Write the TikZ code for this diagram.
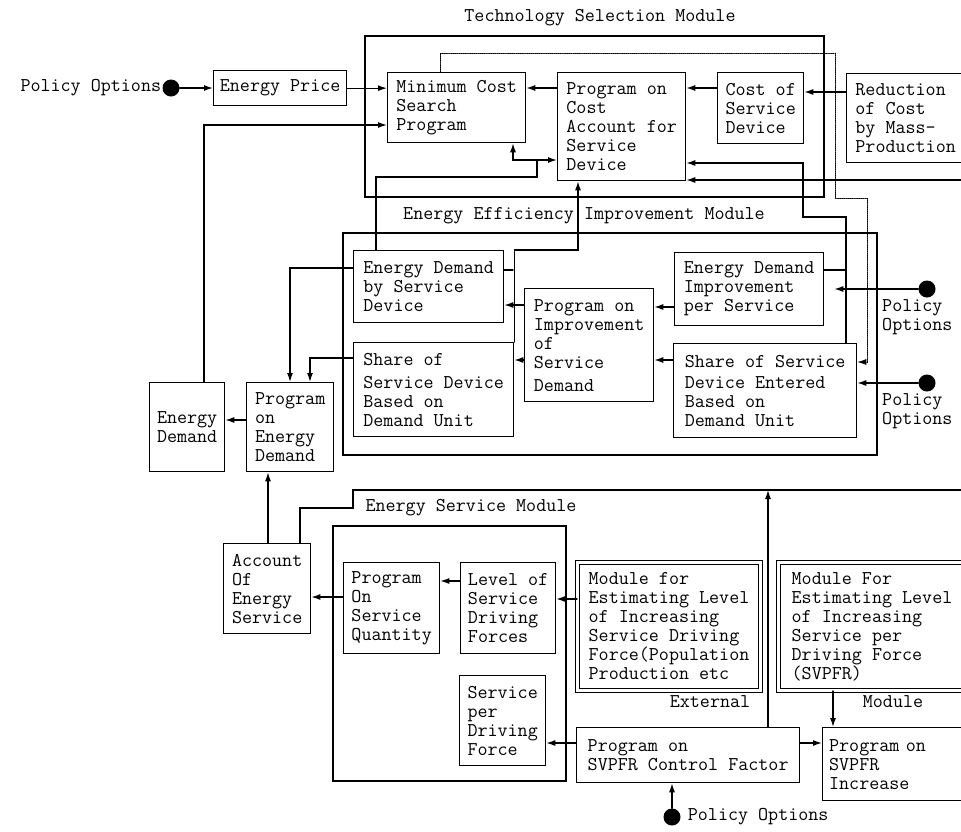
\documentclass[tikz,border=0pt]{standalone}
\usetikzlibrary{arrows.meta}
\begin{document}
\begin{tikzpicture}[x=1pt,y=-1pt,line cap=round,
  every node/.style={font=\fontsize{19.5pt}{19pt}\selectfont\ttfamily,inner sep=1pt},
  box/.style n args={2}{draw,line width=1.3pt,anchor=north west,align=left,inner sep=2pt,minimum width=#1,minimum height=#2},
  modbox/.style n args={2}{box={#1}{#2},double,double distance=2.4pt,line width=1pt},
  wire/.style={line width=1.3pt},
  link/.style={wire,-{Latex[length=9pt,width=6pt]}},
  pdot/.style={circle,fill,inner sep=0pt,minimum size=17pt}]
\useasboundingbox (0,0) rectangle (961,831);
\clip (0,0) rectangle (961,831);

% module frames
\draw[wire] (365,36) rectangle (824,197);
\draw[wire] (343,233) rectangle (877,455);
\draw[wire] (333,526) rectangle (566,781);
\node (tsm) at (600,18) {Technology Selection Module};
\node (eeim) at (584,216) {Energy Efficiency Improvement Module};
\node (esm) at (471,508) {Energy Service Module};

% technology selection
\node[box={133pt}{35pt}] (price) at (213,70) {Energy Price};
\node[box={138pt}{70pt}] (mincost) at (387,72) {Minimum Cost\\Search\\Program};
\node[box={128pt}{108pt}] (costacc) at (557,72) {Program on\\Cost\\Account for\\Service\\Device};
\node[box={86pt}{71pt}] (costdev) at (717,72) {Cost of\\Service\\Device};
\node[box={118pt}{89pt}] (reduct) at (846,73) {Reduction\\of Cost\\by Mass-\\Production};

% energy efficiency improvement
\node[box={150pt}{72pt}] (edsd) at (353,250) {Energy Demand\\by Service\\Device};
\node[box={160pt}{94pt}] (share1) at (353,342) {Share of\\[4pt]Service Device\\Based on\\Demand Unit};
\node[box={129pt}{113pt}] (improve) at (524,288) {Program on\\Improvement\\of\\Service\\[4pt]Demand};
\node[box={149pt}{73pt}] (edips) at (674,252) {Energy Demand\\Improvement\\per Service};
\node[box={183pt}{94pt}] (share2) at (673,343) {Share of Service\\[2pt]Device Entered\\Based on\\Demand Unit};

% energy demand
\node[box={75pt}{89pt}] (edem) at (149,382) {Energy\\Demand};
\node[box={87pt}{89pt}] (proged) at (246,382) {Program\\on\\Energy\\Demand};
\node[box={87pt}{90pt}] (acc) at (223,543) {Account\\Of\\Energy\\Service};

% energy service
\node[box={96pt}{91pt}] (pquant) at (343,562) {Program\\On\\Service\\Quantity};
\node[box={95pt}{91pt}] (level) at (460,562) {Level of\\Service\\Driving\\Forces};
\node[modbox={183pt}{128pt}] (modA) at (577,562) {Module for\\Estimating Level\\of Increasing\\Service Driving\\Force(Population\\Production etc};
\node[modbox={187pt}{128pt}] (modB) at (778,562) {Module For\\Estimating Level\\of Increasing\\Service per\\Driving Force\\(SVPFR)};
\node (ext) at (710,702) {External};
\node (modl) at (893,702) {Module};
\node[box={86pt}{90pt}] (spdf) at (459,675) {Service\\per\\Driving\\Force};
\node[box={223pt}{55pt}] (cf) at (576,727) {Program on\\SVPFR Control Factor};
\node[box={143pt}{73pt},text width=130pt] (pinc) at (822,727) {Program on\\SVPFR\\Increase};

% policy options
\node[pdot] (dotA) at (171,88) {};
\node[pdot] (dotB) at (927,289) {};
\node[pdot] (dotC) at (927,383) {};
\node[pdot] (dotD) at (672,817) {};
\node[anchor=east] (polA) at (dotA.west) {Policy Options};
\node[anchor=north west,align=left] (polB) at (881,298) {Policy\\Options};
\node[anchor=north west,align=left] (polC) at (881,392) {Policy\\Options};
\node[anchor=west,xshift=6pt] (polD) at (dotD.east) {Policy Options};

\coordinate (r1) at (965,180);
\coordinate (r2) at (965,490);
\coordinate (j1) at (537,160);

\draw[link] (dotA) -- (price.west |- dotA);
\draw[link] (price.east) -- (mincost.west |- price.east);
\draw[link] (costacc.west |- 0,88) -- (mincost.east |- 0,88);
\draw[link] (costdev.west |- 0,88) -- (costacc.east |- 0,88);
\draw[link] (reduct.west |- 0,92) -- (costdev.east |- 0,92);
\draw[link] (edem.north -| 204,0) |- (mincost.west |- 0,125);
\draw[wire] (edsd.north -| 376,0) |- (537,177) -- (j1);
\draw[link] (j1) -| (mincost.south -| 513,0);
\draw[link] (j1) -- (costacc.west |- j1);
\draw[wire] (edsd.east |- 0,270) -- (513,270);
\draw[link] (share1.north east) |- (578,250) -- (costacc.south -| 578,0);
\draw[link] (r1) -- (costacc.east |- r1);
\draw[wire] (edips.east |- 0,270) -- (846,270);
\draw[link] (share2.north -| 846,0) |- (803,217) |- (costacc.east |- 0,163);
\draw[densely dotted,line width=0.9pt,-{Latex[length=9pt,width=6pt]}] (mincost.north -| 440,0) |- (835,53) |- (867,198) |- (share2.east |- 0,362);

\draw[link] (improve.west |- 0,305) -- (edsd.east |- 0,305);
\draw[link] (improve.west |- 0,360) -- (share1.east |- 0,360);
\draw[link] (edips.west |- 0,307) -- (improve.east |- 0,307);
\draw[link] (share2.west |- 0,360) -- (improve.east |- 0,360);
\draw[link,shorten >=10pt] (dotB) -- (edips.east |- dotB);
\draw[link] (dotC) -- (share2.east |- dotC);

\draw[link] (proged.west |- 0,420) -- (edem.east |- 0,420);
\draw[link] (edsd.west |- 0,268) -| (proged.north -| 290,0);
\draw[link] (share1.west |- 0,358) -| (proged.north -| 310,0);
\draw[link] (acc.north -| 268,0) -- (proged.south -| 268,0);
\draw[wire] (acc.north -| 300,0) |- (353,508) |- (r2);
\draw[link] (cf.north -| 768,0) -- (768,490);

\draw[link] (level.west |- 0,581) -- (pquant.east |- 0,581);
\draw[link] (pquant.west |- 0,597) -- (acc.east |- 0,597);
\draw[link] (modA.west |- 0,599) -- (level.east |- 0,599);
\draw[link] (cf.west |- 0,743) -- (spdf.east |- 0,743);
\draw[link] (cf.east |- 0,743) -- (pinc.west |- 0,743);
\draw[link] (modB.south -| 833,0) -- (pinc.north -| 833,0);
\draw[link] (dotD) -- (cf.south -| dotD);
\end{tikzpicture}
\end{document}
